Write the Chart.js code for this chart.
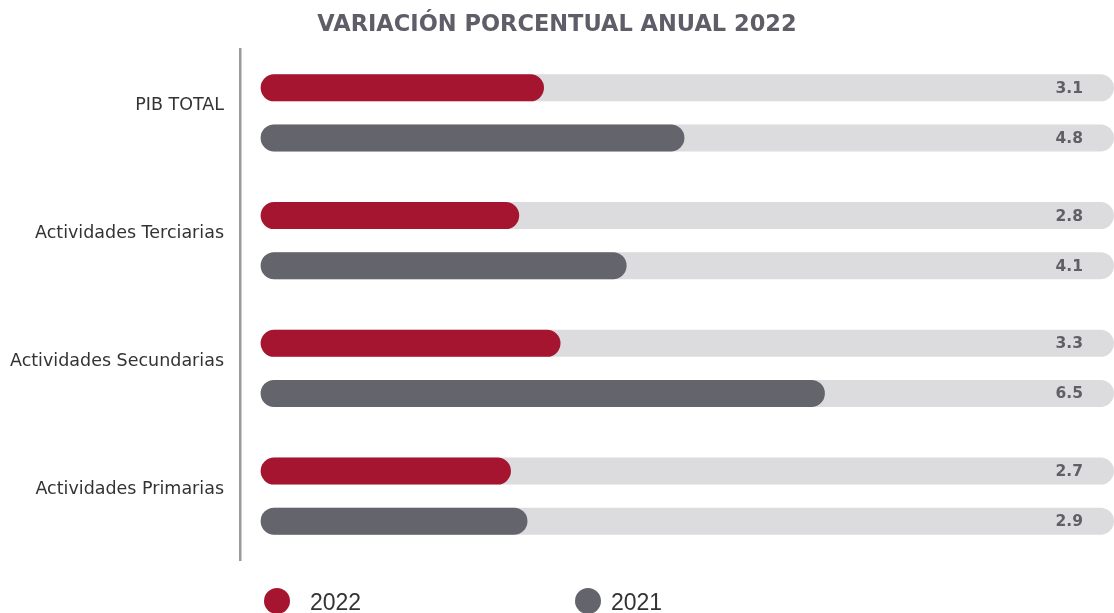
<!DOCTYPE html>
<html>
<head>
<meta charset="utf-8">
<script src="https://cdn.jsdelivr.net/npm/chart.js@4"></script>
<style>
  html, body { margin: 0; padding: 0; background: #fff; }
  .wrap { position: relative; width: 1114px; height: 613px; }
  .legend { position: absolute; top: 588px; left: 0; font-family: "Liberation Sans", Arial, sans-serif; font-size: 23px; color: #333; }
  .legend span { position: absolute; white-space: nowrap; line-height: 26px; }
  .dot { width: 26px; height: 26px; border-radius: 50%; }
</style>
</head>
<body>
<div class="wrap">
  <canvas id="chart" width="1114" height="613"></canvas>
  <div class="legend" id="legend"></div>
</div>
<script>
const categories = ['PIB TOTAL', 'Actividades Terciarias', 'Actividades Secundarias', 'Actividades Primarias'];
const values2022 = [3.1, 2.8, 3.3, 2.7];
const values2021 = [4.8, 4.1, 6.5, 2.9];
const seriesNames = ['2022', '2021'];
const trackMax = 10;

const RED = '#a51530';
const GRAY = '#64646c';
const TRACK = '#dcdcde';

const track = categories.map(() => trackMax);

// value labels at the right end of each track
const valueLabels = {
  id: 'valueLabels',
  afterDatasetsDraw(chart) {
    const ctx = chart.ctx;
    ctx.save();
    ctx.font = 'bold 15.5px "DejaVu Sans", sans-serif';
    ctx.fillStyle = '#5f5f66';
    ctx.textAlign = 'right';
    ctx.textBaseline = 'middle';
    [0, 1].forEach((di) => {
      const meta = chart.getDatasetMeta(di);
      meta.data.forEach((bar, i) => {
        ctx.fillText(chart.data.datasets[di].data[i].toFixed(1), 1083, bar.y + 1);
      });
    });
    ctx.restore();
  }
};

const barStyle = {
  borderRadius: 14, borderSkipped: false, base: -0.33,
  categoryPercentage: 0.784, barPercentage: 0.54
};

new Chart(document.getElementById('chart'), {
  type: 'bar',
  data: {
    labels: categories,
    datasets: [
      { label: seriesNames[0], data: values2022, backgroundColor: RED, stack: 'a', order: 0, ...barStyle },
      { label: seriesNames[1], data: values2021, backgroundColor: GRAY, stack: 'b', order: 0, ...barStyle },
      { label: 'track22', data: track, backgroundColor: TRACK, stack: 'a', order: 1, ...barStyle },
      { label: 'track21', data: track, backgroundColor: TRACK, stack: 'b', order: 1, ...barStyle }
    ]
  },
  options: {
    indexAxis: 'y',
    responsive: false,
    animation: false,
    layout: { padding: { left: 0, right: 0, top: 0, bottom: 53 } },
    scales: {
      x: { display: false, stacked: false, min: -0.58, max: trackMax },
      y: {
        stacked: true,
        grid: { display: false, drawTicks: false },
        border: { display: true, color: '#9a9a9a', width: 2.5 },
        ticks: {
          color: '#333',
          padding: 16,
          labelOffset: -7,
          font: { family: '"DejaVu Sans", sans-serif', size: 17.5 }
        },
        afterFit(scale) { scale.width = 240; }
      }
    },
    plugins: {
      legend: { display: false },
      tooltip: { enabled: false },
      title: {
        display: true,
        text: 'VARIACIÓN PORCENTUAL ANUAL 2022',
        color: '#5e5d68',
        font: { family: '"DejaVu Sans", sans-serif', size: 22.5, weight: 'bold', lineHeight: 1.2 },
        padding: { top: 12, bottom: 10 }
      }
    }
  },
  plugins: [valueLabels]
});

document.getElementById('legend').innerHTML = `
  <span class="dot" style="left:264px;top:0;background:${RED}"></span>
  <span style="left:310px;top:1px">${seriesNames[0]}</span>
  <span class="dot" style="left:575px;top:0;background:${GRAY}"></span>
  <span style="left:611px;top:1px">${seriesNames[1]}</span>
`;
</script>
</body>
</html>
